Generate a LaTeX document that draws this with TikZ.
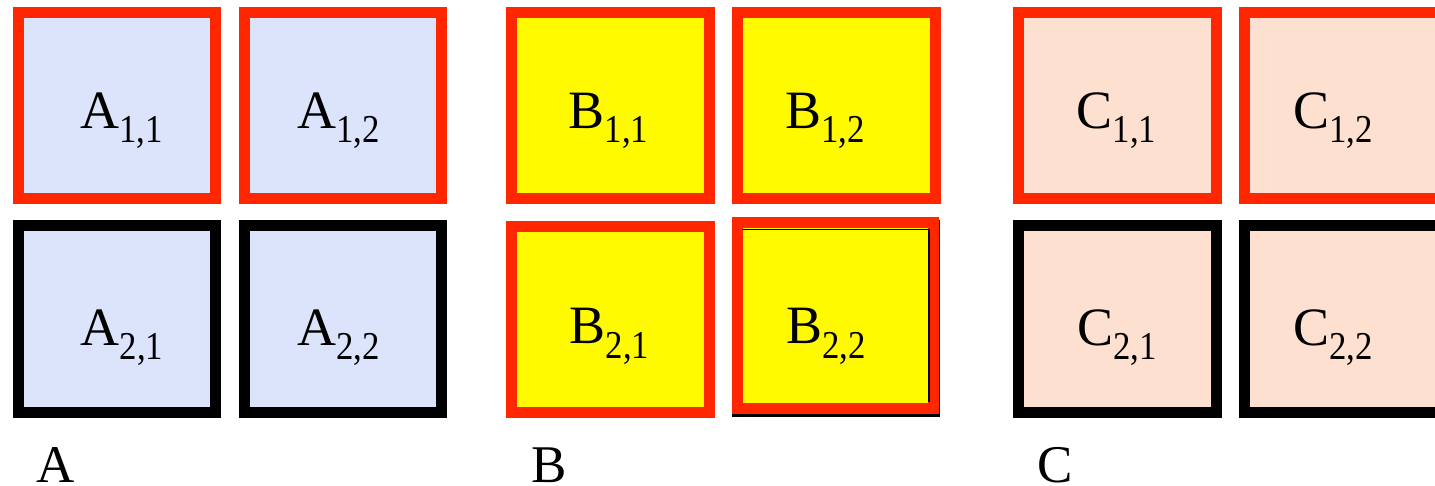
\documentclass[tikz,border=0pt]{standalone}
\usepackage{graphicx}
\usepackage{fontspec}
\setmainfont{Liberation Serif}
\definecolor{redb}{RGB}{255,38,0}
\definecolor{fillA}{RGB}{220,228,252}
\definecolor{fillB}{RGB}{255,250,0}
\definecolor{fillC}{RGB}{253,224,208}
\newcommand{\lbl}[2]{\fontsize{54}{54}\selectfont #1\raisebox{-14pt}{\scalebox{0.88}[1]{\fontsize{39.5}{39.5}\selectfont #2}}}
\tikzset{
  cell/.style={rectangle, line width=11pt, minimum width=197.5pt, minimum height=186pt, inner sep=0pt, anchor=center},
  redcell/.style={cell, draw=redb},
  blackcell/.style={cell, draw=black},
  txt/.style={anchor=base west, inner sep=0pt},
  captxt/.style={anchor=base west, inner sep=0pt, font=\fontsize{53}{53}\selectfont}
}
\begin{document}
\begin{tikzpicture}[x=1pt, y=-1pt]
\useasboundingbox (0,0) rectangle (1435,486);
\clip (0,0) rectangle (1435,486);
% A
\node[redcell, fill=fillA] (a11) at (116.75,106) {};
\node[redcell, fill=fillA] (a12) at (342.75,106) {};
\node[blackcell, fill=fillA] (a21) at (116.75,319) {};
\node[blackcell, fill=fillA] (a22) at (342.75,319) {};
% B
\node[redcell, fill=fillB] (b11) at (610.5,106) {};
\node[redcell, fill=fillB] (b12) at (836.5,106) {};
\node[redcell, fill=fillB] (b21) at (610.5,319.5) {};
\node[blackcell, fill=fillB] (b22s) at (836,318.5) {};
\node[redcell, fill=fillB, minimum width=196.5pt, minimum height=185pt] (b22) at (835.25,315.5) {};
\draw[black, line width=1.5pt] (742,229.5) -- (929,229.5) -- (929,402);
% C
\node[redcell, fill=fillC] (c11) at (1117.5,106) {};
\node[redcell, fill=fillC] (c12) at (1343.5,106) {};
\node[blackcell, fill=fillC] (c21) at (1117.5,319) {};
\node[blackcell, fill=fillC] (c22) at (1343.5,319) {};
% labels
\node[txt] (ta11) at (80,129) {\lbl{A}{1,1}};
\node[txt] (ta12) at (297,129) {\lbl{A}{1,2}};
\node[txt] (ta21) at (80.5,345) {\lbl{A}{2,1}};
\node[txt] (ta22) at (297,345) {\lbl{A}{2,2}};
\node[txt] (tb11) at (568.5,129) {\lbl{B}{1,1}};
\node[txt] (tb12) at (785,129) {\lbl{B}{1,2}};
\node[txt] (tb21) at (569.5,344) {\lbl{B}{2,1}};
\node[txt] (tb22) at (786,344) {\lbl{B}{2,2}};
\node[txt] (tc11) at (1076.5,129) {\lbl{C}{1,1}};
\node[txt] (tc12) at (1293,129) {\lbl{C}{1,2}};
\node[txt] (tc21) at (1077,345) {\lbl{C}{2,1}};
\node[txt] (tc22) at (1293,345) {\lbl{C}{2,2}};
% captions
\node[captxt] (capA) at (36.5,482) {A};
\node[captxt] (capB) at (531,482) {B};
\node[captxt] (capC) at (1037.5,482) {C};
\end{tikzpicture}
\end{document}
